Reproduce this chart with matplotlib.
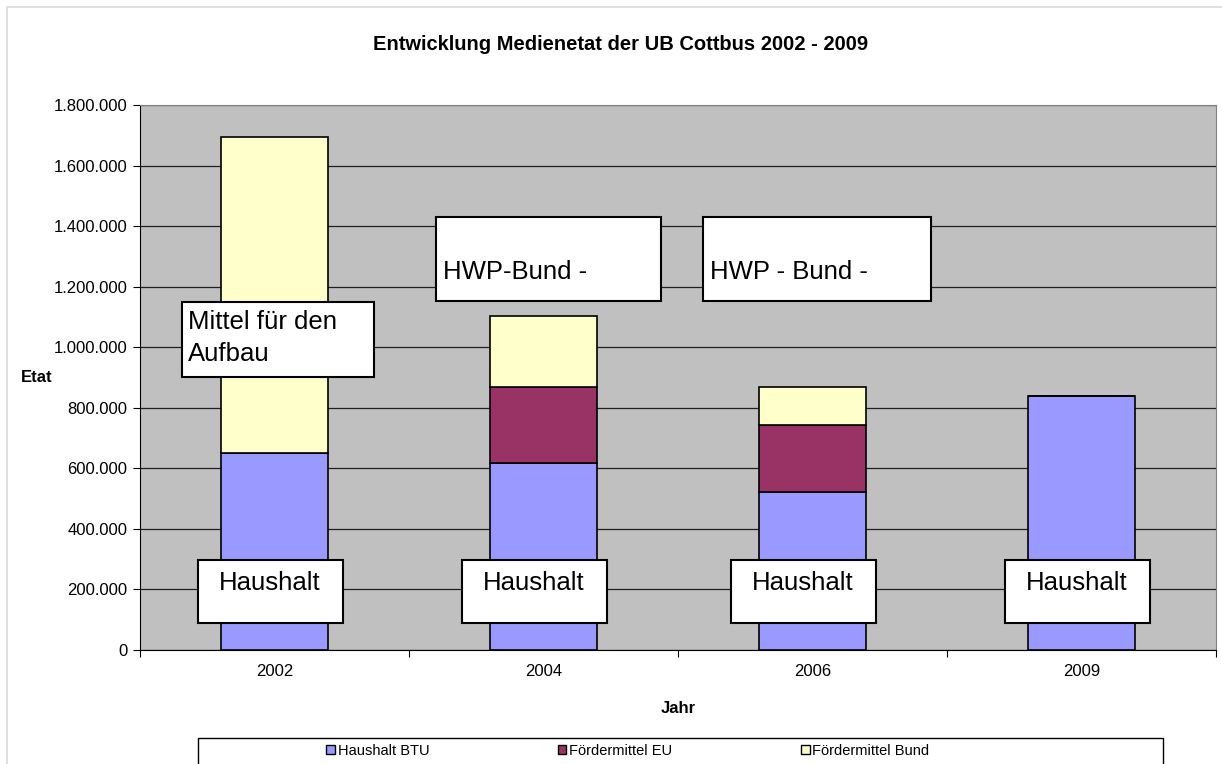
import matplotlib
matplotlib.use("Agg")
import matplotlib.pyplot as plt
from matplotlib.patches import Patch, Rectangle
from matplotlib.ticker import FuncFormatter, MultipleLocator

plt.rcParams["font.family"] = ["Liberation Sans", "DejaVu Sans"]

# Daten
jahre = ["2002", "2004", "2006", "2009"]
haushalt_btu = [650000, 618000, 523000, 839000]
foerder_eu = [0, 251000, 220000, 0]
foerder_bund = [1044000, 234000, 125000, 0]
serien = ["Haushalt BTU", "Fördermittel EU", "Fördermittel Bund"]
farben = ["#9999FF", "#993366", "#FFFFCC"]

W, H = 1222, 764
fig = plt.figure(figsize=(W / 100, H / 100), dpi=100)

# aeusserer Rahmen
fig.patches.append(Rectangle((7 / W, -0.05), 1.1, 1 - 7 / H + 0.05, transform=fig.transFigure,
                             facecolor="none", edgecolor="#D9D9D9", lw=1.2))

ax = fig.add_axes([140 / W, 1 - 650 / H, 1076 / W, 545 / H])
ax.set_facecolor("#C0C0C0")

x = range(len(jahre))
unten = [0] * len(jahre)
for werte, farbe in zip([haushalt_btu, foerder_eu, foerder_bund], farben):
    ax.bar(x, werte, width=0.4, bottom=unten, color=farbe, edgecolor="black", lw=1.2, zorder=3)
    unten = [u + w for u, w in zip(unten, werte)]

ax.set_xlim(-0.5, 3.5)
ax.set_ylim(0, 1800000)
ax.yaxis.set_major_locator(MultipleLocator(200000))
ax.yaxis.set_major_formatter(FuncFormatter(lambda v, p: f"{int(v):,}".replace(",", ".")))
ax.grid(axis="y", color="#202020", lw=0.9, zorder=1)

ax.set_xticks([i - 0.5 for i in range(len(jahre) + 1)])
ax.set_xticklabels([])
ax.set_xticks(list(x), labels=jahre, minor=True)
ax.tick_params(axis="x", which="minor", length=0, pad=10, labelsize=12)
ax.tick_params(axis="x", which="major", length=5, direction="out")
ax.tick_params(axis="y", length=5, direction="out", labelsize=12, pad=4)

for s in ["top", "right"]:
    ax.spines[s].set_color("#808080")
for s in ["left", "bottom"]:
    ax.spines[s].set_color("black")

ax.set_xlabel("Jahr", fontsize=12, fontweight="bold", labelpad=16)
fig.text(37 / W, 1 - 377 / H, "Etat", fontsize=12, fontweight="bold", ha="center", va="center")
fig.text(621 / W, 1 - 44 / H, "Entwicklung Medienetat der UB Cottbus 2002 - 2009",
         fontsize=14.5, fontweight="bold", ha="center", va="center")


def kasten(x0, y0, x1, y1, text, tx, ty, ha="left"):
    # Koordinaten in Pixeln der Vorlage -> Achsenanteile
    ax.add_patch(Rectangle(((x0 - 140) / 1076, (650 - y1) / 545), (x1 - x0) / 1076, (y1 - y0) / 545,
                           transform=ax.transAxes, facecolor="white", edgecolor="black",
                           lw=1.5, zorder=5, clip_on=False))
    ax.text((tx - 140) / 1076, (650 - ty) / 545, text, transform=ax.transAxes, fontsize=18.5,
            ha=ha, va="center", zorder=6, linespacing=1.4)


kasten(182, 302, 374, 377, "Mittel für den\nAufbau", 188, 338)
kasten(436, 217, 661, 301, "HWP-Bund -", 443, 272)
kasten(703, 217, 931, 301, "HWP - Bund -", 710, 272)
for cx in [270, 534, 803, 1077]:
    kasten(cx - 72, 560, cx + 73, 623, "Haushalt", cx, 583, ha="center")

# Legende
fig.patches.append(Rectangle((198 / W, -0.05), (1163 - 198) / W, 0.05 + 1 - 738 / H,
                             transform=fig.transFigure, facecolor="white", edgecolor="black", lw=1))
handles = [Patch(facecolor=f, edgecolor="black", lw=1) for f in farben]
fig.legend(handles, serien, loc="center left", bbox_to_anchor=(326 / W, 1 - 751 / H), ncol=3,
           frameon=False, fontsize=10.5, handlelength=0.6, handleheight=0.6, handletextpad=0.2,
           columnspacing=8.8, borderaxespad=0, borderpad=0)

fig.savefig("out.png", dpi=100)
